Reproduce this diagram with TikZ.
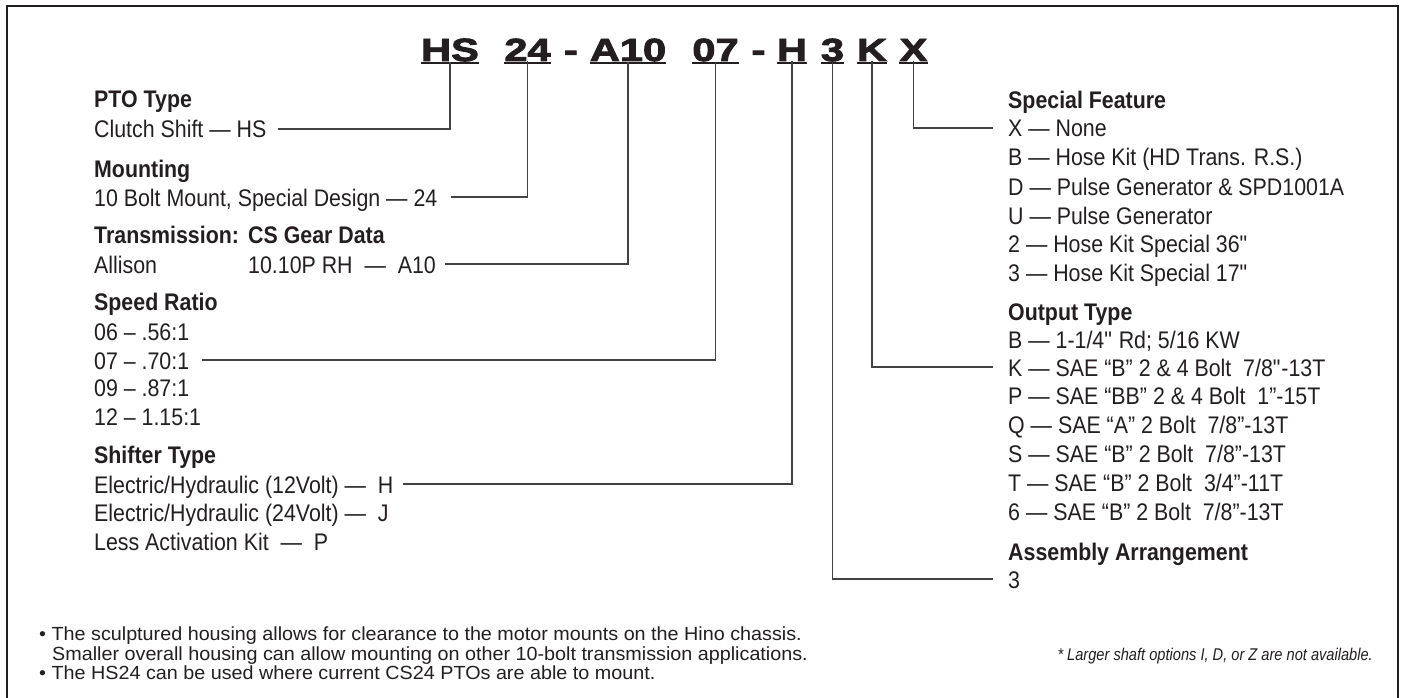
\documentclass[tikz,border=0pt]{standalone}
\usepackage{fontspec}
\setmainfont{Liberation Sans}[FakeStretch=0.89]
\newfontfamily\codefont{Liberation Sans Bold}[FakeStretch=1.3,FakeBold=3]
\newfontfamily\notefont{Liberation Sans}[FakeStretch=1.04]
\newfontfamily\starfont{Liberation Sans Italic}[FakeStretch=0.86]
\definecolor{ink}{HTML}{231F20}
\newcommand{\sq}{\textquotedbl}
\begin{document}
\begin{tikzpicture}[x=1pt,y=-1pt]
\tikzstyle{code}=[anchor=base, inner sep=0pt, text=ink, font=\codefont\fontsize{32}{32}\selectfont]
\tikzstyle{heading}=[anchor=base west, inner sep=0pt, text=ink, font=\bfseries\fontsize{24}{24}\selectfont]
\tikzstyle{item}=[anchor=base west, inner sep=0pt, text height=18pt, text depth=0pt, text=ink, font=\fontsize{24}{24}\selectfont]
\tikzstyle{note}=[anchor=base west, inner sep=0pt, text=ink, font=\notefont\fontsize{19}{19}\selectfont]
\tikzstyle{underline}=[ink, line width=2pt]
\tikzstyle{leader}=[ink!85, line width=1.3pt]
\useasboundingbox (0,0) rectangle (1403,698);
\draw[ink, line width=2.5pt] (7,6) rectangle (1398,702);

% model code
\node[style=code] (hs) at (450,61) {HS};
\node[style=code] (mt) at (527.5,61) {24};
\node[style=code] (d1) at (571,61) {-};
\node[style=code] (gd) at (628,61) {A10};
\node[style=code] (sr) at (715.5,61) {07};
\node[style=code] (d2) at (758.5,61) {-};
\node[style=code] (sh) at (792,61) {H};
\node[style=code] (aa) at (832.5,61) {3};
\node[style=code] (ot) at (872,61) {K};
\node[style=code] (sf) at (913.5,61) {X};

\draw[style=underline] ([yshift=-2.3pt]hs.base west) -- ([yshift=-2.3pt]hs.base east);
\draw[style=underline] ([yshift=-2.3pt]mt.base west) -- ([yshift=-2.3pt]mt.base east);
\draw[style=underline] ([yshift=-2.3pt]gd.base west) -- ([yshift=-2.3pt]gd.base east);
\draw[style=underline] ([yshift=-2.3pt]sr.base west) -- ([yshift=-2.3pt]sr.base east);
\draw[style=underline] ([yshift=-2.3pt]sh.base west) -- ([yshift=-2.3pt]sh.base east);
\draw[style=underline] ([yshift=-2.3pt]aa.base west) -- ([yshift=-2.3pt]aa.base east);
\draw[style=underline] ([yshift=-2.3pt]ot.base west) -- ([yshift=-2.3pt]ot.base east);
\draw[style=underline] ([yshift=-2.3pt]sf.base west) -- ([yshift=-2.3pt]sf.base east);

% left column
\node[style=heading] (ptohead) at (94,108) {PTO Type};
\node[style=item] (clutch) at (94,138) {Clutch Shift — HS};
\node[style=heading] (mounthead) at (94,177) {Mounting};
\node[style=item] (mount) at (94,206) {10 Bolt Mount, Special Design — 24};
\node[style=heading] (transhead) at (94,243) {Transmission:};
\node[style=heading] (gearhead) at (248,243) {CS Gear Data};
\node[style=item] (allison) at (94,273) {Allison};
\node[style=item] (gear) at (248,273) {10.10P RH \ — \ A10};
\node[style=heading] (ratiohead) at (94,310) {Speed Ratio};
\node[style=item] (r06) at (94,340) {06 – .56:1};
\node[style=item] (r07) at (94,369) {07 – .70:1};
\node[style=item] (r09) at (94,396) {09 – .87:1};
\node[style=item] (r12) at (94,425) {12 – 1.15:1};
\node[style=heading] (shifthead) at (94,463) {Shifter Type};
\node[style=item] (s12) at (94,493) {Electric/Hydraulic (12Volt) — \ H};
\node[style=item] (s24) at (94,521) {Electric/Hydraulic (24Volt) — \ J};
\node[style=item] (sless) at (94,550) {Less Activation Kit \ — \ P};

% right column
\node[style=heading] (feathead) at (1008,109) {Special Feature};
\node[style=item] (fx) at (1008,137) {X — None};
\node[style=item] (fb) at (1008,166) {B — Hose Kit (HD Trans. R.S.)};
\node[style=item] (fd) at (1008,195) {D — Pulse Generator \& SPD1001A};
\node[style=item] (fu) at (1008,224) {U — Pulse Generator};
\node[style=item] (f2) at (1008,252) {2 — Hose Kit Special 36\sq};
\node[style=item] (f3) at (1008,281) {3 — Hose Kit Special 17\sq};
\node[style=heading] (outhead) at (1008,320) {Output Type};
\node[style=item] (ob) at (1008,348) {B — 1-1/4\sq{} Rd; 5/16 KW};
\node[style=item] (ok) at (1008,376) {K — SAE “B” 2 \& 4 Bolt \ 7/8\sq-13T};
\node[style=item] (op) at (1008,404) {P — SAE “BB” 2 \& 4 Bolt \ 1”-15T};
\node[style=item] (oq) at (1008,433) {Q — SAE “A” 2 Bolt \ 7/8”-13T};
\node[style=item] (os) at (1008,462) {S — SAE “B” 2 Bolt \ 7/8”-13T};
\node[style=item] (ot3) at (1008,491) {T — SAE “B” 2 Bolt \ 3/4”-11T};
\node[style=item] (o6) at (1008,520) {6 — SAE “B” 2 Bolt \ 7/8”-13T};
\node[style=heading] (asmhead) at (1008,560) {Assembly Arrangement};
\node[style=item] (asm3) at (1008,588) {3};

% leaders
\draw[style=leader, shorten >=11pt] (hs.south) |- (clutch.east);
\draw[style=leader, shorten >=13pt] (mt.south) |- (mount.east);
\draw[style=leader, shorten >=9pt] (gd.south) |- (gear.east);
\draw[style=leader, shorten >=13pt] (sr.south) |- (r07.east);
\draw[style=leader, shorten >=9pt] (sh.south) |- (s12.east);
\draw[style=leader, shorten >=15pt] (aa.south) |- (asm3.west);
\draw[style=leader, shorten >=15pt] (ot.south) |- (ok.west);
\draw[style=leader, shorten >=15pt] (sf.south) |- (fx.west);

% notes
\node[style=note] (n1) at (39,640) {• The sculptured housing allows for clearance to the motor mounts on the Hino chassis.};
\node[style=note] (n2) at (52,660) {Smaller overall housing can allow mounting on other 10-bolt transmission applications.};
\node[style=note] (n3) at (39,679) {• The HS24 can be used where current CS24 PTOs are able to mount.};
\node[style=note, anchor=base east, font=\starfont\fontsize{17}{17}\selectfont] (star) at (1373,660) {* Larger shaft options I, D, or Z are not available.};

\end{tikzpicture}
\end{document}
